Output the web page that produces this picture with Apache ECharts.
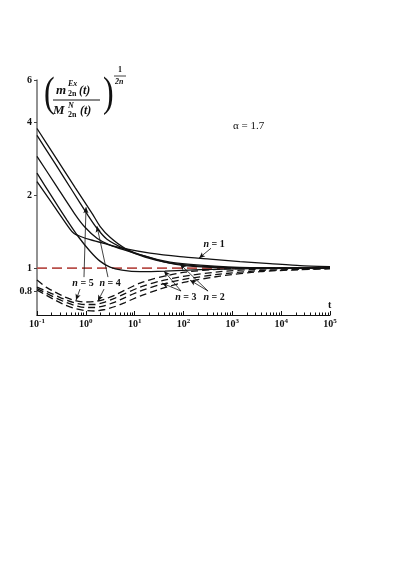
<!DOCTYPE html>
<html><head><meta charset="utf-8">
<script src="https://cdn.jsdelivr.net/npm/echarts@6/dist/echarts.min.js"></script>
<style>html,body{margin:0;padding:0;background:#fff}#c{width:403px;height:569px}</style>
</head><body><div id="c"></div>
<script>
// ---- axis ticks ----
const xTicks = [0.1, 1, 10, 100, 1000, 10000, 100000];
const xTickExp = ['-1', '0', '1', '2', '3', '4', '5'];
const yTicks = [0.8, 1, 2, 4, 6];
const yTickLabels = ['0.8', '1', '2', '4', '6'];

// ---- solid curves (t, ratio) ----
const solidN5 = [[0.1,3.78],[0.2337,2.90],[0.6002,2.16],[1.34,1.686],[1.95,1.49],[3.13,1.342],[6.34,1.209],[16.3,1.12],[52.9,1.058],[218,1.029],[2300,1.005],[100000,1.0]];
const solidN4 = [[0.1,3.54],[0.2337,2.71],[0.521,2.10],[1.107,1.654],[1.69,1.462],[2.71,1.317],[6.34,1.198],[16.3,1.11],[52.9,1.048],[218,1.019],[2300,1.0],[100000,1.0]];
const solidN3 = [[0.1,2.90],[0.245,2.20],[0.6002,1.67],[0.9616,1.476],[1.69,1.33],[3.13,1.244],[6.34,1.186],[16.3,1.12],[41.8,1.058],[107,1.024],[560,1.006],[100000,1.0]];
const solidN2 = [[0.1,2.47],[0.203,1.97],[0.411,1.58],[0.691,1.355],[1.22,1.175],[1.95,1.069],[3.13,1.01],[5.5,0.981],[12.9,0.967],[41.8,0.972],[218,0.986],[2300,0.995],[100000,1.0]];
const solidN1 = [[0.1,2.28],[0.213,1.83],[0.474,1.45],[0.573,1.39],[0.76,1.355],[1.22,1.311],[2.47,1.262],[6.34,1.203],[20.6,1.153],[84.9,1.115],[349,1.089],[1435,1.064],[5910,1.044],[24300,1.024],[100000,1.014]];

// ---- dashed curves (t, ratio) ----
const dashedA = [[0.1,0.8924],[0.1529,0.8348],[0.2337,0.7963],[0.3745,0.7593],[0.6002,0.7345],[0.9616,0.7241],[1.541,0.7276],[2.47,0.7449],[3.957,0.7738],[6.341,0.8115],[12.87,0.8671],[33.04,0.918],[107.4,0.9627],[559.8,0.9906],[3690,1.0],[100000,1.0]];
const dashedB = [[0.1,0.8348],[0.1529,0.8038],[0.2337,0.7738],[0.3745,0.7414],[0.6002,0.7173],[0.9616,0.7072],[1.541,0.7072],[2.47,0.7241],[3.957,0.7521],[6.341,0.785],[12.87,0.8348],[33.04,0.8839],[107.4,0.9268],[559.8,0.9674],[3690,0.9906],[100000,1.0]];
const dashedC = [[0.1,0.8232],[0.1529,0.7888],[0.2337,0.7557],[0.3745,0.7241],[0.6002,0.7005],[0.9616,0.6873],[1.541,0.6873],[2.47,0.7005],[3.957,0.7241],[6.341,0.7557],[12.87,0.8038],[33.04,0.8549],[107.4,0.9008],[559.8,0.9447],[3690,0.9765],[100000,0.9953]];
const dashedD = [[0.1,0.8115],[0.1529,0.7738],[0.2337,0.738],[0.3745,0.7038],[0.6002,0.6808],[0.9616,0.6681],[1.541,0.6649],[2.47,0.6744],[3.957,0.6939],[6.341,0.7207],[12.87,0.7665],[33.04,0.8192],[107.4,0.8756],[559.8,0.9268],[3690,0.9674],[24320,0.9858],[100000,0.9953]];

// ---- reference level ----
const refLevel = [[0.1, 1], [100000, 1]];

// ---- annotations: label [t, y, n], arrows [[from],[to]] ----
const annLabels = [
  [422, 1.256, '1'],
  [0.875, 0.867, '5'],
  [3.13, 0.867, '4'],
  [112, 0.759, '3'],
  [422, 0.759, '2']
];
const annArrows = [
  [[366, 1.209], [208, 1.10]],
  [[0.917, 0.918], [1.01, 1.785]],
  [[0.76, 0.819], [0.63, 0.738]],
  [[2.84, 0.918], [1.69, 1.49]],
  [[2.36, 0.819], [1.77, 0.731]],
  [[89, 0.804], [40, 0.972]],
  [[89, 0.804], [36.3, 0.867]],
  [[318, 0.804], [84.9, 1.039]],
  [[318, 0.804], [136, 0.892]]
];
const alphaText = 'α = 1.7';

const minorTicks = [];
for (let d = 0.1; d < 100000; d *= 10) for (let k = 2; k <= 9; k++) minorTicks.push(+(k * d).toPrecision(3));

const serif = '"Liberation Serif", "DejaVu Serif", serif';
const chart = echarts.init(document.getElementById('c'));

const solidStyle = { color: '#111', width: 1.3 };
const dashStyle = { color: '#111', width: 1.3, type: [7, 4] };
function lineSeries(data, style) {
  return { type: 'line', data, symbol: 'none', smooth: 0.2, lineStyle: style, silent: true, z: 3 };
}

const series = [
  { type: 'line', data: refLevel, symbol: 'none', lineStyle: { color: '#b9504b', width: 1.6, type: [10, 5] }, z: 2 },
  lineSeries(solidN1, solidStyle), lineSeries(solidN2, solidStyle), lineSeries(solidN3, solidStyle),
  lineSeries(solidN4, solidStyle), lineSeries(solidN5, solidStyle),
  lineSeries(dashedA, dashStyle), lineSeries(dashedB, dashStyle), lineSeries(dashedC, dashStyle), lineSeries(dashedD, dashStyle),
  {
    type: 'line', data: [], symbol: 'none', z: 4,
    markLine: {
      silent: true, symbol: ['none', 'arrow'], symbolSize: [4, 6], animation: false,
      lineStyle: { color: '#111', width: 0.8, type: 'solid' }, label: { show: false },
      data: annArrows.map(a => [{ coord: a[0] }, { coord: a[1] }])
    },
    markPoint: {
      silent: true, symbol: 'circle', symbolSize: 0, animation: false,
      label: {
        show: true, position: 'inside', color: '#111',
        formatter: p => '{i|n}{r| = ' + p.data.txt + '}',
        rich: {
          i: { fontFamily: serif, fontStyle: 'italic', fontWeight: 'bold', fontSize: 10, color: '#111' },
          r: { fontFamily: serif, fontWeight: 'bold', fontSize: 10, color: '#111' }
        }
      },
      data: annLabels.map(l => ({ coord: [l[0], l[1]], txt: l[2] }))
    }
  }
];

const option = {
  animation: false,
  backgroundColor: '#fff',
  grid: { left: 37, right: 73, top: 80, bottom: 254 },
  xAxis: [{
    type: 'log', logBase: 10, min: 0.1, max: 100000, position: 'bottom',
    axisLine: { lineStyle: { color: '#111', width: 1.2 } },
    axisTick: { inside: true, length: 4, lineStyle: { color: '#111' }, customValues: xTicks },
    axisLabel: {
      customValues: xTicks, margin: 3,
      formatter: v => { const i = xTicks.findIndex(x => Math.abs(x - v) / x < 1e-6); return '{b|10}{s|' + xTickExp[i] + '}'; },
      rich: {
        b: { fontFamily: serif, fontWeight: 'bold', fontSize: 10, color: '#111' },
        s: { fontFamily: serif, fontWeight: 'bold', fontSize: 7, color: '#111', verticalAlign: 'top', padding: [0, 0, 6, 0] }
      }
    },
    splitLine: { show: false }
  }, {
    type: 'log', logBase: 10, min: 0.1, max: 100000, position: 'bottom',
    axisLine: { show: false },
    axisTick: { inside: true, length: 2.5, lineStyle: { color: '#111' }, customValues: minorTicks },
    axisLabel: { show: false }, splitLine: { show: false }
  }],
  yAxis: {
    type: 'log', logBase: 10, min: 0.64, max: 6,
    axisLine: { show: true, lineStyle: { color: '#777', width: 1.6 } },
    axisTick: { show: true, length: 3, lineStyle: { color: '#444' }, customValues: yTicks },
    axisLabel: {
      customValues: yTicks, margin: 5, fontFamily: serif, fontWeight: 'bold', fontSize: 10, color: '#111',
      formatter: v => { const i = yTicks.findIndex(y => Math.abs(y - v) < 1e-6); return yTickLabels[i]; }
    },
    splitLine: { show: false }
  },
  series,
  graphic: [
    { type: 'text', x: 328, y: 300, style: { text: 't', font: 'bold 10px ' + serif, fill: '#111' } },
    { type: 'text', x: 233, y: 121, style: { text: alphaText, font: '11px ' + serif, fill: '#111' } },
    // y-axis title
    { type: 'text', x: 44, y: 73, scaleY: 1.35, style: { text: '(', font: '32px ' + serif, fill: '#111' } },
    { type: 'text', x: 103, y: 73, scaleY: 1.35, style: { text: ')', font: '32px ' + serif, fill: '#111' } },
    { type: 'text', x: 56, y: 84, style: { text: 'm', font: 'italic bold 13px ' + serif, fill: '#111' } },
    { type: 'text', x: 68, y: 80, style: { text: 'Ex', font: 'italic bold 8px ' + serif, fill: '#111' } },
    { type: 'text', x: 68, y: 90, style: { text: '2n', font: 'bold 8px ' + serif, fill: '#111' } },
    { type: 'text', x: 79, y: 85, style: { text: '(t)', font: 'italic bold 12px ' + serif, fill: '#111' } },
    { type: 'line', shape: { x1: 53, y1: 100, x2: 100, y2: 100 }, style: { stroke: '#111', lineWidth: 1 } },
    { type: 'text', x: 53, y: 104, style: { text: 'M', font: 'italic bold 13px ' + serif, fill: '#111' } },
    { type: 'text', x: 68, y: 102, style: { text: 'N', font: 'italic bold 8px ' + serif, fill: '#111' } },
    { type: 'text', x: 68, y: 111, style: { text: '2n', font: 'bold 8px ' + serif, fill: '#111' } },
    { type: 'text', x: 80, y: 105, style: { text: '(t)', font: 'italic bold 12px ' + serif, fill: '#111' } },
    { type: 'text', x: 118, y: 66, style: { text: '1', font: 'bold 8px ' + serif, fill: '#111' } },
    { type: 'line', shape: { x1: 114, y1: 76, x2: 126, y2: 76 }, style: { stroke: '#111', lineWidth: 0.8 } },
    { type: 'text', x: 115, y: 78, style: { text: '2n', font: 'italic bold 8px ' + serif, fill: '#111' } }
  ]
};
chart.setOption(option);
</script>
</body></html>
